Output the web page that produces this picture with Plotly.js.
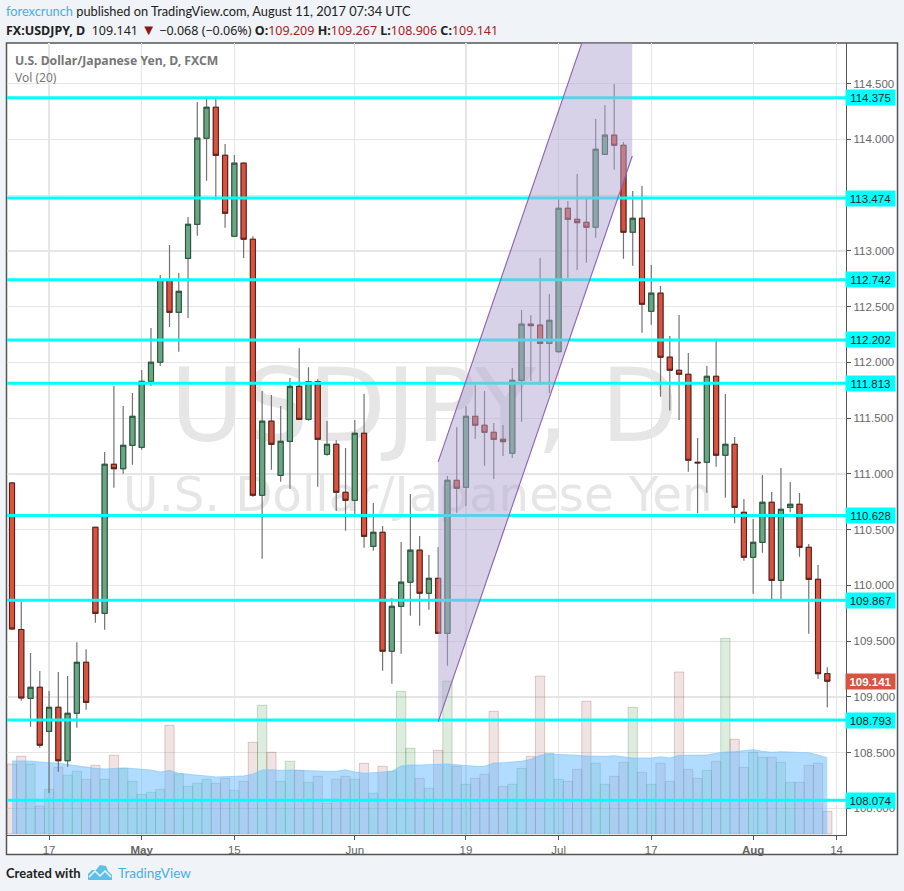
<!DOCTYPE html>
<html><head><meta charset="utf-8">
<script src="https://cdn.plot.ly/plotly-3.0.1.min.js"></script>
<style>html,body{margin:0;padding:0;background:#f0f3f7}#c{width:904px;height:891px}</style>
</head><body><div id="c"></div>
<script>
const open_ = [110.919,109.605,108.988,109.087,108.692,108.907,108.428,108.854,109.311,110.522,109.750,111.087,111.047,111.257,111.239,111.831,112.002,112.740,112.450,112.934,113.239,114.011,114.289,113.858,113.132,113.787,113.105,110.809,111.473,110.988,111.293,111.786,111.490,111.828,111.177,111.266,110.836,110.764,111.365,110.351,110.477,109.410,109.813,110.029,110.316,109.930,110.064,109.571,110.943,110.881,111.517,111.437,111.374,111.311,111.186,111.840,112.343,112.334,112.172,112.097,113.383,113.284,113.257,113.213,113.867,114.038,113.948,113.168,113.293,112.459,112.621,112.047,111.930,111.894,111.105,111.105,111.876,111.168,111.266,110.656,110.253,110.387,110.746,110.046,110.701,110.728,110.342,110.055,109.209];
const high = [110.928,109.856,109.394,109.233,109.054,109.224,109.188,109.490,109.428,110.525,111.197,111.789,111.610,111.726,111.933,112.309,112.785,113.054,112.803,113.305,114.336,114.363,114.363,113.960,113.861,113.795,113.132,111.744,111.708,111.610,111.861,112.127,111.957,111.849,111.475,111.302,111.233,111.484,111.717,110.740,110.534,109.888,110.390,110.821,110.444,110.273,110.345,110.982,111.421,111.607,111.798,111.744,111.457,111.439,111.951,112.471,112.426,112.937,112.614,113.466,113.448,113.691,113.466,114.184,114.310,114.498,113.978,113.538,113.583,112.874,112.686,112.238,112.426,112.085,111.323,111.968,112.193,111.717,111.332,110.776,110.596,110.991,110.838,111.054,110.928,110.829,110.372,110.184,109.267];
const low = [109.601,108.967,108.733,108.545,108.139,108.330,108.375,108.724,108.886,109.666,109.603,110.877,111.002,111.083,111.218,111.789,111.968,112.318,112.097,112.399,113.137,113.630,113.460,113.209,113.130,112.937,110.796,110.240,111.038,110.931,110.868,111.484,111.478,110.886,111.164,110.668,110.491,110.641,110.339,110.312,109.236,109.119,109.388,109.729,109.639,109.783,109.569,109.281,110.650,110.713,111.314,111.074,110.955,111.161,111.143,111.469,111.834,111.798,111.726,112.085,112.758,112.830,112.895,113.119,113.865,113.729,112.931,112.868,112.267,112.339,111.693,111.568,111.484,111.020,110.647,110.832,111.065,110.787,110.558,110.222,109.926,110.294,109.879,109.879,110.656,110.258,109.568,109.164,108.906];
const close_ = [109.610,108.991,109.087,108.567,108.907,108.428,108.854,109.311,108.952,109.750,111.087,111.047,111.257,111.517,111.831,112.002,112.744,112.450,112.638,113.239,114.011,114.289,113.858,113.338,113.787,113.105,110.809,111.473,111.266,111.293,111.786,111.490,111.828,111.311,111.266,110.836,110.764,111.365,110.441,110.477,109.410,109.813,110.029,110.316,109.930,110.064,109.571,110.943,110.872,111.517,111.437,111.374,111.311,111.290,111.840,112.343,112.330,112.172,112.378,113.383,113.284,113.254,113.213,113.912,114.038,113.948,113.168,113.293,112.522,112.621,112.047,111.930,111.894,111.123,111.100,111.876,111.168,111.266,110.701,110.253,110.387,110.746,110.046,110.683,110.728,110.342,110.055,109.209,109.141];
const volume = [70,77.7,70,28,44.7,66.7,58.7,62.7,54.7,68.7,54.7,78.7,65.7,52.7,39.7,41.7,44.7,108.7,60,47.7,50.7,54.7,50.7,55.7,43.7,52.7,91.7,128.7,81.7,52.7,72.7,63.7,51.7,57.7,30.7,54.7,57.7,54.7,70.7,40.7,67.7,62.7,142.7,85.7,55.7,45.7,83.7,153,67.7,49.7,55.7,59.7,122.7,47.7,49.7,65.7,77.7,158,80.7,54.7,52.7,64.7,132.7,70.7,49.7,57.7,71.7,126.7,61.7,49.7,70.7,52.7,162,64.7,55.7,63.7,72.7,195.7,94.7,66.7,81.7,76.7,76.7,71.7,51.7,51.7,68.7,70.7,22.7];
const volumeMA = [73,73,73,72,71.5,70.7,69.5,68,67,65.7,65,65.5,66,65.5,64.7,64,62,63.7,60.7,60,59,58,57,57.5,58,58,60,64,64.3,63.7,64,63.7,62.7,62.7,62.7,62.7,64.3,62,60.7,61.3,62,62.7,68,69,69,69,69.7,70,69,68.5,67.7,67.7,71,71.3,72,72.7,74.7,78.7,80,79.7,79,78.7,78,77.7,77.7,78.3,77.3,76,76,76,77.3,76,78.7,79,79,79,80.7,82,82.3,83.3,84.3,82.7,81.7,82.3,82,81.3,81.3,79,76.3];
const levels = [114.375,113.474,112.742,112.202,111.813,110.628,109.867,108.793,108.074];
const tickIdx = [4,14,24,37,49,59,69,80,89];
const tickText = ["17","<b>May</b>","15","Jun","19","Jul","17","<b>Aug</b>","14"];
const priceTicks = [108,108.5,109,109.5,110,110.5,111,111.5,112,112.5,113,113.5,114,114.5];
const priceTickText = ["108.000","108.500","109.000","109.500","110.000","110.500","111.000","111.500","112.000","112.500","113.000","","114.000","114.500"];
const lastPrice = 109.141;
const channelX = [46,66.95,66.95,46];
const channelY = [108.776,113.852,116.184,111.108];

const idx = open_.map((_, i) => i);
const X0 = -0.54, X1 = 90.02;
const PL = 7, PR = 846, PT = 43, PB = 835;
const px = v => (v - PL) / (PR - PL);
const py = v => (PB - v) / (PB - PT);
const bodyHigh = open_.map((o, i) => Math.max(o, close_[i]));
const bodyLow = open_.map((o, i) => Math.min(o, close_[i]));
const up = open_.map((o, i) => close_[i] >= o);

const traces = [
  {type:'bar', x:idx, y:volume, yaxis:'y', width:1, hoverinfo:'skip',
   marker:{color:up.map(u => u ? 'rgba(56,142,60,0.17)' : 'rgba(130,40,40,0.13)'),
           line:{width:1, color:up.map(u => u ? 'rgba(56,142,60,0.28)' : 'rgba(130,40,40,0.22)')}}},
  {type:'scatter', mode:'lines', x:idx, y:volumeMA, yaxis:'y', fill:'tozeroy', hoverinfo:'skip',
   fillcolor:'rgba(100,185,255,0.5)', line:{color:'rgba(120,195,255,0.6)', width:1}},
  {type:'scatter', mode:'text', x:[44.5], y:[418], yaxis:'y', text:['USDJPY, D'], hoverinfo:'skip',
   textfont:{family:'DejaVu Sans', size:101, color:'#e6e6e6'}, textposition:'middle center'},
  {type:'scatter', mode:'text', x:[43.8], y:[335], yaxis:'y', text:['U.S. Dollar/Japanese Yen'], hoverinfo:'skip',
   textfont:{family:'DejaVu Sans', size:48.3, color:'#e6e6e6'}, textposition:'middle center'},
  {type:'candlestick', x:idx, open:open_, high:high, low:low, close:close_, yaxis:'y2', hoverinfo:'skip',
   increasing:{line:{color:'#737375', width:1.2}, fillcolor:'rgba(0,0,0,0)'},
   decreasing:{line:{color:'#737375', width:1.2}, fillcolor:'rgba(0,0,0,0)'}},
  {type:'candlestick', x:idx, open:open_, high:bodyHigh, low:bodyLow, close:close_, yaxis:'y2', hoverinfo:'skip',
   increasing:{line:{color:'#225437', width:1}, fillcolor:'#6ba583'},
   decreasing:{line:{color:'#5b1a13', width:1}, fillcolor:'#d75442'}},
  ...levels.map(l => ({type:'scatter', mode:'lines', x:[X0, X1], y:[l, l], yaxis:'y2', hoverinfo:'skip',
   line:{color:'#00ffff', width:3}})),
  {type:'scatter', mode:'lines', x:channelX, y:channelY, yaxis:'y2', fill:'toself', hoverinfo:'skip',
   fillcolor:'rgba(177,165,209,0.5)', line:{width:0}},
  {type:'scatter', mode:'lines', x:channelX.slice(0,2), y:channelY.slice(0,2), yaxis:'y2', hoverinfo:'skip',
   line:{color:'#8e5fb5', width:1.1}},
  {type:'scatter', mode:'lines', x:channelX.slice(2), y:channelY.slice(2), yaxis:'y2', hoverinfo:'skip',
   line:{color:'#8e5fb5', width:1.1}}
];

const note = (x, y, text, family, size, color) => ({xref:'paper', yref:'paper', x:px(x), y:py(y), text,
  showarrow:false, xanchor:'left', yanchor:'middle', font:{family, size, color}});
const red = s => `<span style="color:#a81c1c">${s}</span>`;
const tag = (v, bg, color, bold) => ({xref:'paper', yref:'y2', x:px(845), y:v, text:bold ? `<b>${v.toFixed(3)}</b>` : v.toFixed(3),
  showarrow:false, xanchor:'left', yanchor:'middle', width:49, height:15, align:'center', bgcolor:bg, borderpad:0,
  font:{family:'Liberation Sans', size:11.5, color}});

const annotations = [
  note(4, 11.5, '<span style="color:#4aaee6">forexcrunch</span> published on TradingView.com, August 11, 2017 07:34 UTC', 'Lato', 12.8, '#222'),
  note(4, 29.5, `<b>FX:USDJPY, D</b>  109.141 <span style="color:#8a1a1a;font-size:15px">▼</span> −0.068 (−0.06%) <b>O:</b>${red('109.209')} <b>H:</b>${red('109.267')} <b>L:</b>${red('108.906')} <b>C:</b>${red('109.141')}`, 'Noto Sans', 12.5, '#222'),
  note(13, 60.5, '<b>U.S. Dollar/Japanese Yen, D, FXCM</b>', 'Noto Sans', 12.2, '#777'),
  note(13, 77.5, 'Vol (20)', 'Noto Sans', 12, '#777'),
  note(4, 873, '<b>Created with</b>', 'Lato', 13, '#222'),
  note(116, 873, 'TradingView', 'Lato', 13.5, '#4aaee6'),
  ...levels.map(l => tag(l, '#00ffff', '#222', false)),
  tag(lastPrice, '#d75442', '#fff', true)
];

const poly = pts => 'M' + pts.map(p => `${px(p[0])},${py(p[1])}`).join(' L') + ' Z';
const shapes = [
  {type:'rect', xref:'paper', yref:'paper', x0:px(6.5), x1:px(897.5), y0:py(854.5), y1:py(43), layer:'below',
   fillcolor:'#ffffff', line:{color:'#555555', width:1.5}},
  {type:'path', xref:'paper', yref:'paper', layer:'above', line:{width:0}, fillcolor:'#5cc0e8',
   path:poly([[88,880],[88,874],[92,870],[96,870],[100,865],[106,866],[108,871],[112,875],[112,880]])},
  {type:'path', xref:'paper', yref:'paper', layer:'above', line:{color:'#f0f3f7', width:1.5}, fillcolor:'rgba(0,0,0,0)',
   path:'M' + [[89,877],[95,871],[100,876],[105,871],[111,877]].map(p => `${px(p[0])},${py(p[1])}`).join(' L')}
];

const layout = {
  width:904, height:891, margin:{l:PL, r:904-PR, t:PT, b:891-PB, pad:0},
  paper_bgcolor:'#f0f3f7', plot_bgcolor:'rgba(255,255,255,0)', showlegend:false, bargap:0, hovermode:false,
  boxmode:'overlay', boxgap:0.22,
  xaxis:{range:[X0, X1], tickmode:'array', tickvals:tickIdx, ticktext:tickText, rangeslider:{visible:false},
    showgrid:true, gridcolor:'#e6e6e6', gridwidth:1.2, zeroline:false, showline:true, linecolor:'#555555', linewidth:1.2,
    ticks:'outside', ticklen:4, tickcolor:'#555555', tickangle:0,
    tickfont:{family:'Liberation Sans', size:11.5, color:'#666'}},
  yaxis:{range:[-1, 791], visible:false, showgrid:false, zeroline:false, fixedrange:true},
  yaxis2:{overlaying:'y', side:'right', anchor:'x', range:[107.762, 114.865], tickmode:'array', tickvals:priceTicks, ticktext:priceTickText,
    showgrid:true, gridcolor:'#e6e6e6', gridwidth:1.2, zeroline:false, showline:true, linecolor:'#555555', linewidth:1.2,
    ticks:'outside', ticklen:4, tickcolor:'#555555',
    tickfont:{family:'Liberation Sans', size:11.5, color:'#666'}},
  annotations, shapes
};
Plotly.newPlot('c', traces, layout, {displayModeBar:false, staticPlot:true});
</script></body></html>
